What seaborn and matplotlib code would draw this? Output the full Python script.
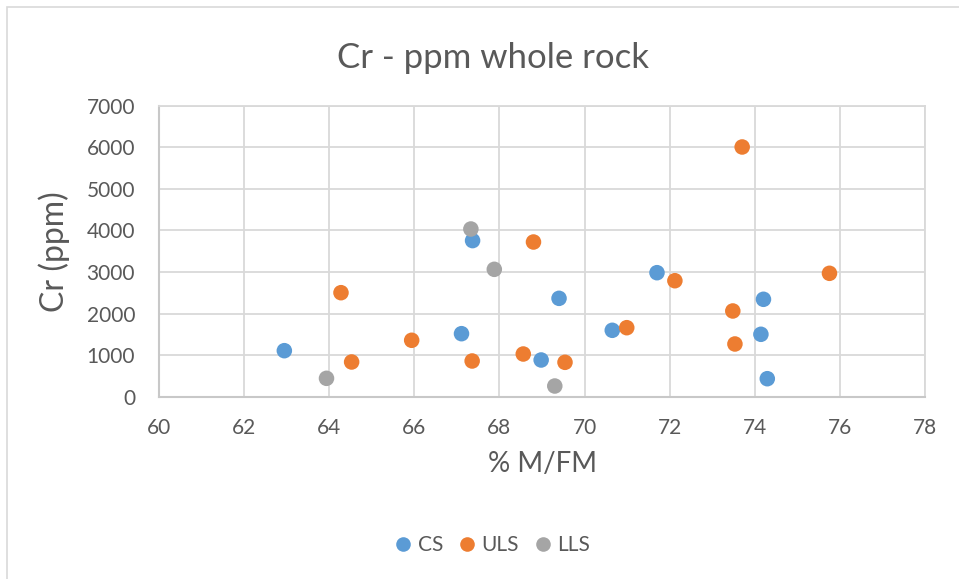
import matplotlib
matplotlib.use("Agg")
import matplotlib.pyplot as plt
from matplotlib.patches import Rectangle
import seaborn as sns
import pandas as pd

# Cr content against % M/FM for three units
cs_mfm = [62.95, 67.11, 67.37, 68.98, 69.40, 70.65, 71.70, 74.14, 74.20, 74.29]
cs_cr = [1107, 1516, 3755, 883, 2366, 1597, 2983, 1501, 2343, 433]

uls_mfm = [64.28, 64.53, 65.94, 67.36, 68.56, 68.80, 69.54, 70.99, 72.12, 73.48, 73.53, 73.70, 75.75]
uls_cr = [2502, 835, 1357, 859, 1027, 3721, 827, 1660, 2790, 2062, 1268, 6007, 2968]

lls_mfm = [63.94, 67.33, 67.88, 69.30]
lls_cr = [442, 4034, 3064, 257]

groups = ["CS", "ULS", "LLS"]
colors = {"CS": "#5B9BD5", "ULS": "#ED7D31", "LLS": "#A5A5A5"}

x_ticks = [60, 62, 64, 66, 68, 70, 72, 74, 76, 78]
y_ticks = [0, 1000, 2000, 3000, 4000, 5000, 6000, 7000]

df = pd.DataFrame({
    "mfm": cs_mfm + uls_mfm + lls_mfm,
    "cr": cs_cr + uls_cr + lls_cr,
    "unit": ["CS"] * len(cs_mfm) + ["ULS"] * len(uls_mfm) + ["LLS"] * len(lls_mfm),
})

sns.set_theme(style="white")
plt.rcParams["font.family"] = ["Lato", "DejaVu Sans"]

text_color = "#595959"

fig = plt.figure(figsize=(9.59, 5.79), dpi=100)
# chart frame
fig.patches.append(Rectangle((7 / 959, -0.1), 1.2, 1 - 7 / 579 + 0.1,
                             transform=fig.transFigure, fill=False,
                             edgecolor="#D9D9D9", linewidth=1.2))
ax = fig.add_axes([158.7 / 959, 1 - 396.7 / 579, (925.3 - 158.7) / 959, (396.7 - 105.7) / 579])

sns.scatterplot(data=df, x="mfm", y="cr", hue="unit", hue_order=groups,
                palette=colors, s=125, edgecolor="none", linewidth=0,
                ax=ax, legend=False, zorder=3)

ax.set_xlim(60, 78)
ax.set_ylim(0, 7000)
ax.set_xticks(x_ticks)
ax.set_yticks(y_ticks)
ax.set_xticklabels([str(v) for v in x_ticks])
ax.set_yticklabels([str(v) for v in y_ticks])
ax.grid(True, color="#D9D9D9", linewidth=1.3)
ax.set_axisbelow(True)
for side in ["top", "right"]:
    ax.spines[side].set_color("#D9D9D9")
    ax.spines[side].set_linewidth(1.3)
for side in ["left", "bottom"]:
    ax.spines[side].set_color("#C8C8C8")
    ax.spines[side].set_linewidth(1.5)
ax.tick_params(axis="both", length=0, labelsize=15, labelcolor=text_color)
ax.tick_params(axis="y", pad=17)
ax.tick_params(axis="x", pad=15)

ax.set_xlabel("% M/FM", fontsize=20, color=text_color, labelpad=10)
ax.set_ylabel("Cr (ppm)", fontsize=23, color=text_color, labelpad=12)

fig.text(493 / 959, 1 - 68 / 579, "Cr - ppm whole rock", ha="center", va="baseline",
         fontsize=25, color=text_color)

handles = [plt.Line2D([], [], marker="o", linestyle="none", markersize=10.5,
                      markerfacecolor=colors[g], markeredgecolor="none") for g in groups]
fig.legend(handles, groups, loc="center", bbox_to_anchor=(491.5 / 959, 1 - 545 / 579),
           ncol=3, frameon=False, fontsize=15, labelcolor=text_color,
           handletextpad=0.2, columnspacing=0.65, handlelength=1.0)

fig.savefig("out.png", dpi=100)
